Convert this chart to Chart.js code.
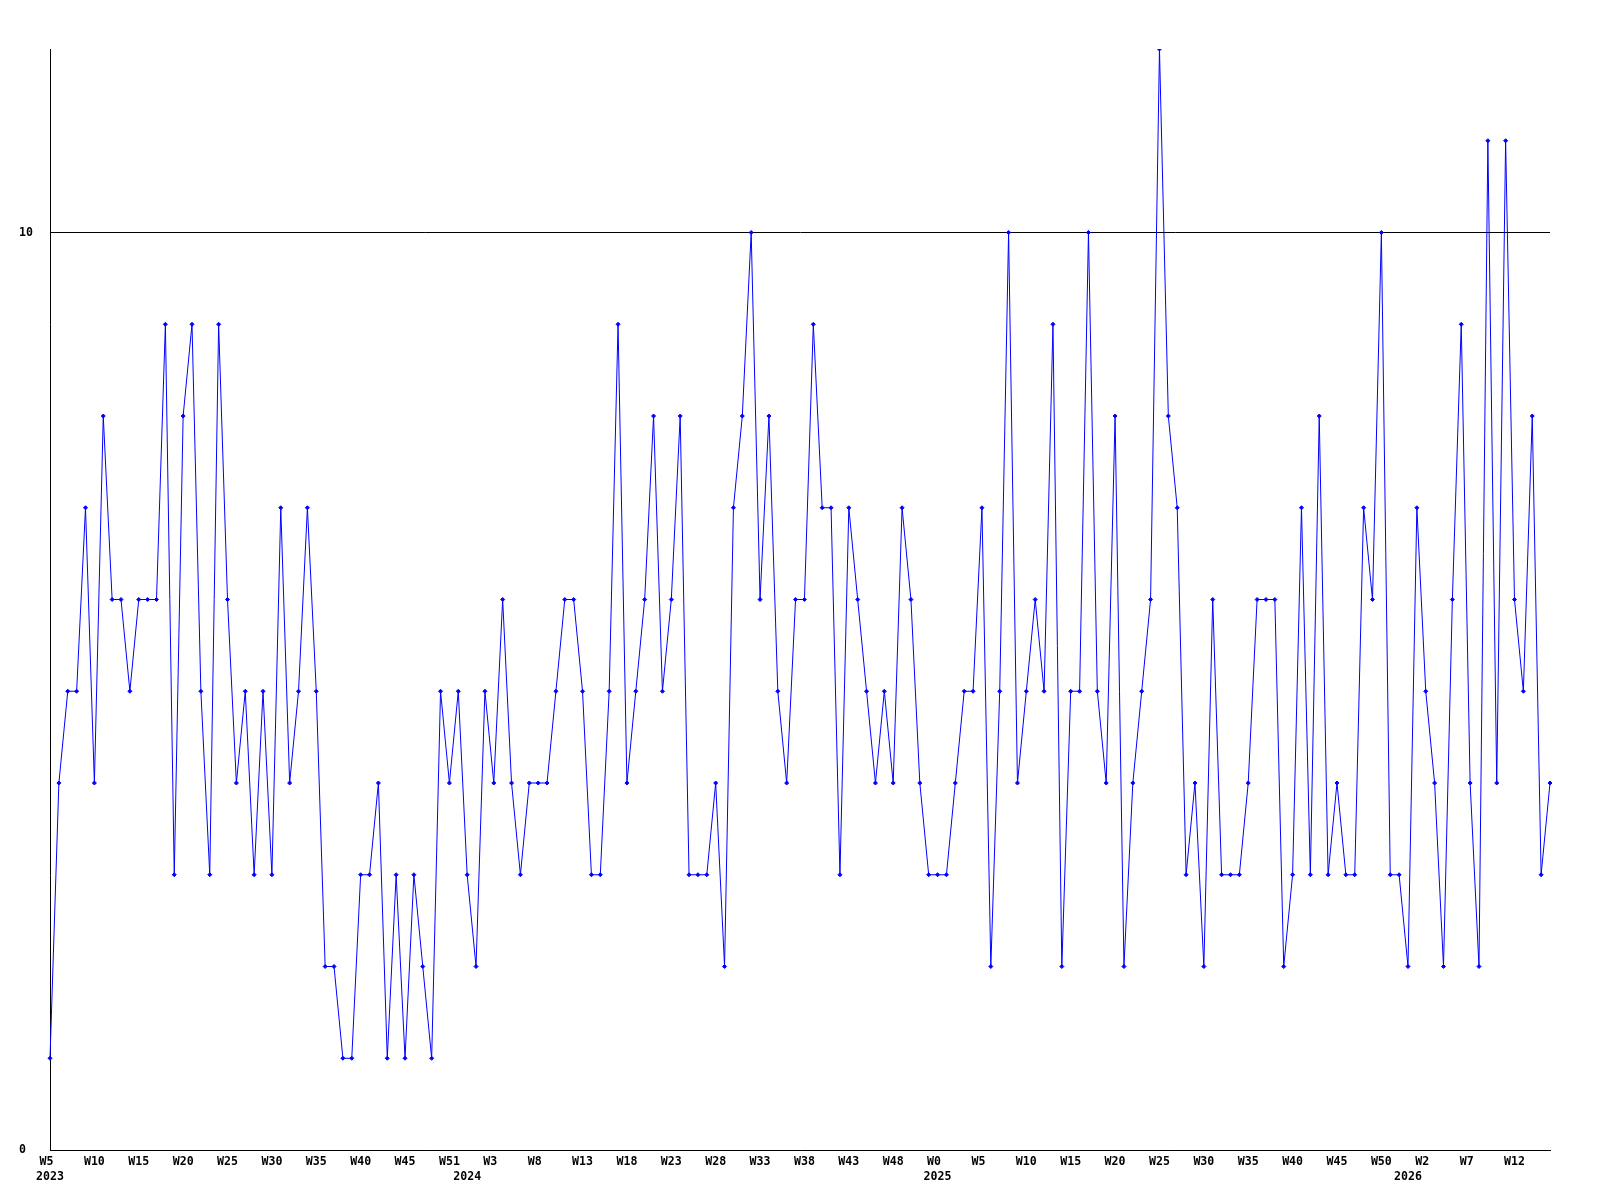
<!DOCTYPE html>
<html>
<head>
<meta charset="utf-8">
<script src="https://cdn.jsdelivr.net/npm/chart.js@4/dist/chart.umd.min.js"></script>
<style>
  html, body { margin: 0; padding: 0; background: #fff; }
  canvas { display: block; }
</style>
</head>
<body>
<canvas id="chartWeeks" width="1600" height="1200"></canvas>
<script>
// one value per week, W5 2023 .. W16 2026
const weeklyValues = [
  1, 4, 5, 5, 7, 4, 8, 6, 6, 5, 6, 6, 6, 9, 3, 8, 9, 5, 3, 9, 6, 4,
  5, 3, 5, 3, 7, 4, 5, 7, 5, 2, 2, 1, 1, 3, 3, 4, 1, 3, 1, 3, 2,
  1, 5, 4, 5, 3, 2, 5, 4, 6, 4, 3, 4, 4, 4, 5, 6, 6, 5, 3, 3, 5, 9,
  4, 5, 6, 8, 5, 6, 8, 3, 3, 3, 4, 2, 7, 8, 10, 6, 8, 5, 4, 6, 6,
  9, 7, 7, 3, 7, 6, 5, 4, 5, 4, 7, 6, 4, 3, 3, 3, 4, 5, 5, 7, 2, 5,
  10, 4, 5, 6, 5, 9, 2, 5, 5, 10, 5, 4, 8, 2, 4, 5, 6, 12, 8, 7, 3,
  4, 2, 6, 3, 3, 3, 4, 6, 6, 6, 2, 3, 7, 3, 8, 3, 4, 3, 3, 7, 6,
  10, 3, 3, 2, 7, 5, 4, 2, 6, 9, 4, 2, 11, 4, 11, 6, 5, 8, 3, 4
];

// a week label on every 5th point
const weekTicks = [
  "W5", "W10", "W15", "W20", "W25", "W30", "W35", "W40", "W45", "W51",
  "W3", "W8", "W13", "W18", "W23", "W28", "W33", "W38", "W43", "W48",
  "W0", "W5", "W10", "W15", "W20", "W25", "W30", "W35", "W40", "W45",
  "W50", "W2", "W7", "W12"
];
const tickEvery = 5;

// year on the second line, at the first week of each year
const yearIndex = [0, 47, 100, 153];
const yearNames = ["2023", "2024", "2025", "2026"];

const yTicks = [0, 10];

const labels = weeklyValues.map((v, i) => {
  const week = i % tickEvery === 0 ? weekTicks[i / tickEvery].padEnd(3, " ") : "";
  const y = yearIndex.indexOf(i);
  return y >= 0 ? [week, yearNames[y]] : week;
});

const tickFont = { family: "'DejaVu Sans Mono', monospace", size: 11.6, weight: "bold", lineHeight: 1.25 };

new Chart(document.getElementById("chartWeeks"), {
  type: "line",
  data: {
    labels: labels,
    datasets: [{
      data: weeklyValues,
      borderColor: "#0000ff",
      backgroundColor: "#0000ff",
      borderWidth: 1,
      pointStyle: "rectRot",
      pointRadius: 2,
      pointBorderWidth: 1,
      tension: 0,
      fill: false
    }]
  },
  options: {
    responsive: false,
    devicePixelRatio: 1,
    animation: false,
    layout: { padding: { left: 19, top: 49, right: 50, bottom: 0 } },
    plugins: { legend: { display: false }, tooltip: { enabled: false } },
    scales: {
      x: {
        type: "category",
        offset: false,
        grid: { display: false, drawTicks: false },
        border: { display: true, color: "#000", width: 1 },
        ticks: {
          autoSkip: false, maxRotation: 0, minRotation: 0,
          color: "#000", font: tickFont, padding: 5
        },
        afterFit: s => { s.height = 50; }
      },
      y: {
        min: 0, max: 12,
        afterBuildTicks: s => { s.ticks = yTicks.map(v => ({ value: v })); },
        afterFit: s => { s.width = 31; },
        grid: { color: "#000", lineWidth: 1, drawTicks: false },
        border: { display: true, color: "#000", width: 1 },
        ticks: { crossAlign: "far", color: "#000", font: tickFont }
      }
    }
  }
});
</script>
</body>
</html>
